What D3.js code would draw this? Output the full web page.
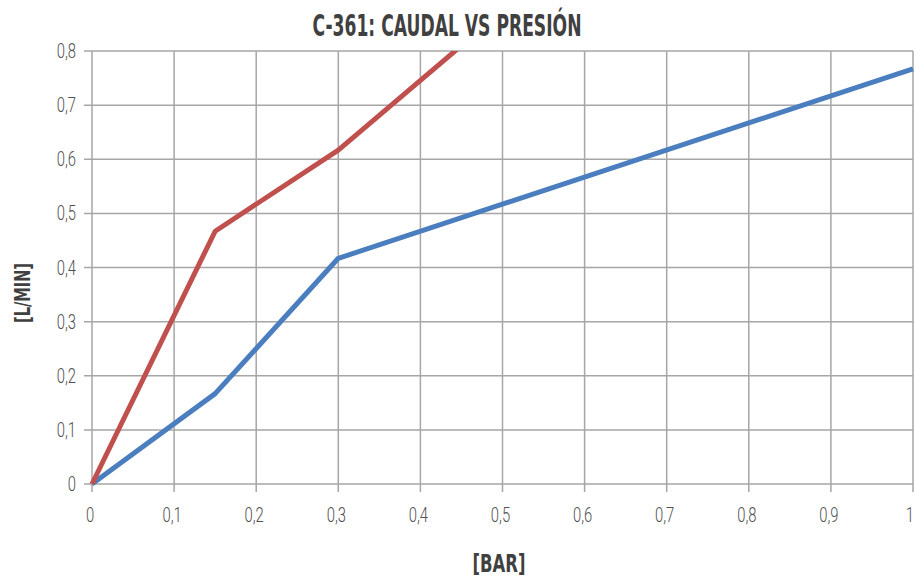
<!DOCTYPE html>
<html>
<head>
<meta charset="utf-8">
<script src="https://cdn.jsdelivr.net/npm/d3@7"></script>
<style>
  body { margin: 0; background: #fff; }
  svg { display: block; }
</style>
</head>
<body>
<svg id="chart" width="915" height="578"></svg>
<script>
// Flow vs pressure curves for C-361
const title = "C-361: CAUDAL VS PRESIÓN";
const xLabel = "[BAR]";
const yLabel = "[L/MIN]";

const xTicks = [0, 0.1, 0.2, 0.3, 0.4, 0.5, 0.6, 0.7, 0.8, 0.9, 1];
const yTicks = [0, 0.1, 0.2, 0.3, 0.4, 0.5, 0.6, 0.7, 0.8];

const redPressure = [0, 0.15, 0.3, 0.45];
const redFlow     = [0, 0.467, 0.617, 0.81];

const bluePressure = [0, 0.15, 0.3, 1];
const blueFlow     = [0, 0.167, 0.417, 0.767];

const margin = { left: 92, right: 2, top: 51, bottom: 94 };
const W = 915, H = 578;

const svg = d3.select("#chart");
const x = d3.scaleLinear().domain([0, 1]).range([margin.left, W - margin.right]);
const y = d3.scaleLinear().domain([0, 0.8]).range([H - margin.bottom, margin.top]);

const fmt = d => d === 0 ? "0" : (d === 1 ? "1" : d3.format(".1f")(d).replace(".", ","));
const gridColor = "#a6a6a6";
const tickFont = "Roboto, 'DejaVu Sans', sans-serif";
const boldFont = "'DejaVu Sans', sans-serif";
const narrow = 0.76;

// grid lines (with short tick stubs outside the plot)
svg.append("g").selectAll("line").data(yTicks).join("line")
  .attr("x1", x(0) - 8).attr("x2", x(1))
  .attr("y1", d => y(d)).attr("y2", d => y(d))
  .attr("stroke", gridColor).attr("stroke-width", 1.5);
svg.append("g").selectAll("line").data(xTicks).join("line")
  .attr("x1", d => x(d)).attr("x2", d => x(d))
  .attr("y1", y(0.8)).attr("y2", y(0) + 8)
  .attr("stroke", gridColor).attr("stroke-width", 1.5);

// tick labels, horizontally condensed
svg.append("g").selectAll("text").data(yTicks).join("text")
  .attr("transform", d => `translate(${x(0) - 16},${y(d)}) scale(${narrow},1)`)
  .attr("dy", "0.36em")
  .attr("text-anchor", "end")
  .attr("font-family", tickFont).attr("font-weight", 300)
  .attr("font-size", 19.5).attr("fill", "#505050")
  .text(fmt);
svg.append("g").selectAll("text").data(xTicks).join("text")
  .attr("transform", d => `translate(${d === 1 ? x(d) + 1 : x(d) - 2},${y(0) + 38}) scale(${narrow},1)`)
  .attr("text-anchor", d => d === 1 ? "end" : "middle")
  .attr("font-family", tickFont).attr("font-weight", 300)
  .attr("font-size", 19.5).attr("fill", "#505050")
  .text(fmt);

// series
svg.append("defs").append("clipPath").attr("id", "plot")
  .append("rect").attr("x", x(0) - 4).attr("y", y(0.8))
  .attr("width", x(1) - x(0) + 8).attr("height", y(0) - y(0.8) + 4);

const line = d3.line().x(d => x(d[0])).y(d => y(d[1]));
const series = [
  { px: bluePressure, fy: blueFlow, color: "#4a7ebf" },
  { px: redPressure, fy: redFlow, color: "#c0504d" }
];
svg.append("g").attr("clip-path", "url(#plot)")
  .selectAll("path").data(series).join("path")
  .attr("d", s => line(s.px.map((p, i) => [p, s.fy[i]])))
  .attr("fill", "none").attr("stroke", s => s.color)
  .attr("stroke-width", 5).attr("stroke-linejoin", "round");

// titles, in a tall condensed bold face
svg.append("text").attr("x", 447).attr("y", 36)
  .attr("text-anchor", "middle").attr("font-family", boldFont)
  .attr("font-weight", "bold").attr("font-size", 30).attr("fill", "#404040")
  .attr("textLength", 269).attr("lengthAdjust", "spacingAndGlyphs")
  .text(title);
svg.append("text").attr("x", 499).attr("y", 572)
  .attr("text-anchor", "middle").attr("font-family", boldFont)
  .attr("font-weight", "bold").attr("font-size", 24).attr("fill", "#404040")
  .attr("textLength", 53).attr("lengthAdjust", "spacingAndGlyphs")
  .text(xLabel);
svg.append("text").attr("transform", "translate(30,293) rotate(-90)")
  .attr("text-anchor", "middle").attr("font-family", boldFont)
  .attr("font-weight", "bold").attr("font-size", 21).attr("fill", "#404040")
  .attr("textLength", 60).attr("lengthAdjust", "spacingAndGlyphs")
  .text(yLabel);
</script>
</body>
</html>
